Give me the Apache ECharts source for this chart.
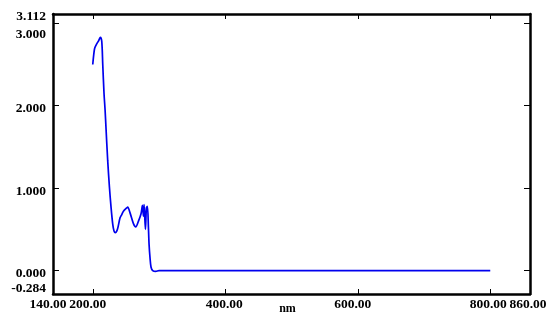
<!DOCTYPE html>
<html>
<head>
<meta charset="utf-8">
<script src="https://cdn.jsdelivr.net/npm/echarts@6/dist/echarts.min.js"></script>
<style>
  html, body { margin: 0; padding: 0; background: #fff; }
  #main { width: 548px; height: 316px; }
</style>
</head>
<body>
<div id="main"></div>
<script>
// wavelength (nm) and absorbance
var wavelength = [200, 201.5, 203, 206, 209, 211.5, 213.6, 215.1, 217, 218.6, 220, 222.6, 225.2, 227.6, 230.2, 232.1, 234,
  237.3, 241.2, 243.8, 246.3, 251.3, 252.8, 256.3, 261.4, 264.9, 269, 272.9, 275, 276.5, 277.5, 279.5, 281, 282.5,
  284, 285, 286.5, 288, 290.5, 295, 300, 400, 500, 600, 700, 800]
var absorbance = [2.50, 2.62, 2.70, 2.75, 2.79, 2.83, 2.78, 2.50, 2.15, 1.95, 1.73, 1.33, 1.01, 0.77, 0.56, 0.48, 0.46,
  0.50, 0.64, 0.68, 0.72, 0.76, 0.77, 0.70, 0.57, 0.53, 0.60, 0.69, 0.79, 0.66, 0.80, 0.50, 0.76, 0.78,
  0.53, 0.32, 0.15, 0.04, 0.00, -0.01, 0, 0, 0, 0, 0, 0]
var xTicks = [140, 200, 400, 600, 800, 860]
var yTicks = [-0.284, 0, 1, 2, 3, 3.112]
var xMin = 140, xMax = 860
var yMin = -0.284, yMax = 3.112

var font = 'Liberation Serif'
var data = []
for (var i = 0; i < wavelength.length; i++) {
  data.push([wavelength[i], absorbance[i]])
}

function yLabel(v) {
  var t = v.toFixed(3)
  if (t === '3.000') return '{d11|' + t + '}'
  if (t === '-0.284') return '{u5|' + t + '}'
  return '{d3|' + t + '}'
}
// small left nudges so the labels sit like the original
function xLabel(v) {
  var t = v.toFixed(2)
  if (v === 140 || v === 200 || v === 600) return '{l5|' + t + '}'
  if (v === 400) return '{l1|' + t + '}'
  return '{l2|' + t + '}'
}
var lab = { fontFamily: font, fontWeight: 'bold', fontSize: 13.5, color: '#000' }

var chart = echarts.init(document.getElementById('main'))
var option = {
  backgroundColor: '#fff',
  animation: false,
  grid: { left: 53, right: 18, top: 14, bottom: 22, outerBoundsMode: 'none', containLabel: false },
  xAxis: [{
    type: 'value', min: xMin, max: xMax, position: 'bottom',
    name: 'nm', nameLocation: 'middle', nameGap: 9, nameMoveOverlap: false,
    nameTextStyle: { fontFamily: font, fontWeight: 'bold', fontSize: 12, color: '#000', padding: [0, 8, 0, 0] },
    axisLine: { onZero: false, lineStyle: { color: '#000', width: 2.5 } },
    axisTick: { inside: true, length: 5, customValues: [200, 400, 600, 800], lineStyle: { color: '#000', width: 1 } },
    axisLabel: {
      customValues: xTicks, margin: 4, fontFamily: font, fontWeight: 'bold', fontSize: 13.5, color: '#000',
      formatter: xLabel,
      rich: {
        l5: Object.assign({ padding: [0, 10, 0, 0] }, lab),
        l2: Object.assign({ padding: [0, 4, 0, 0] }, lab),
        l1: Object.assign({ padding: [0, 2, 0, 0] }, lab)
      }
    },
    splitLine: { show: false }
  }, {
    type: 'value', min: xMin, max: xMax, position: 'top',
    axisLine: { onZero: false, lineStyle: { color: '#000', width: 2.5 } },
    axisTick: { inside: true, length: 5, customValues: [200, 400, 600, 800], lineStyle: { color: '#000', width: 1 } },
    axisLabel: { show: false },
    splitLine: { show: false }
  }],
  yAxis: [{
    type: 'value', min: yMin, max: yMax, position: 'left',
    axisLine: { show: true, onZero: false, lineStyle: { color: '#000', width: 2.5 } },
    axisTick: { show: true, inside: true, length: 6, customValues: [0, 1, 2, 3], lineStyle: { color: '#000', width: 1 } },
    axisLabel: {
      customValues: yTicks, margin: 7, fontFamily: font, fontWeight: 'bold', fontSize: 13.5, color: '#000',
      formatter: yLabel,
      rich: {
        d3: Object.assign({ padding: [6, 0, 0, 0] }, lab),
        d11: Object.assign({ padding: [22, 0, 0, 0] }, lab),
        u5: Object.assign({ padding: [0, 0, 10, 0] }, lab)
      }
    },
    splitLine: { show: false }
  }, {
    type: 'value', min: yMin, max: yMax, position: 'right',
    axisLine: { show: true, onZero: false, lineStyle: { color: '#000', width: 2.5 } },
    axisTick: { show: true, inside: true, length: 6, customValues: [0, 1, 2, 3], lineStyle: { color: '#000', width: 1 } },
    axisLabel: { show: false },
    splitLine: { show: false }
  }],
  series: [{
    type: 'line',
    data: data,
    showSymbol: false,
    smooth: 0.3,
    lineStyle: { color: '#0000ee', width: 1.7 },
    itemStyle: { color: '#0000ee' }
  }]
}
chart.setOption(option)
</script>
</body>
</html>
